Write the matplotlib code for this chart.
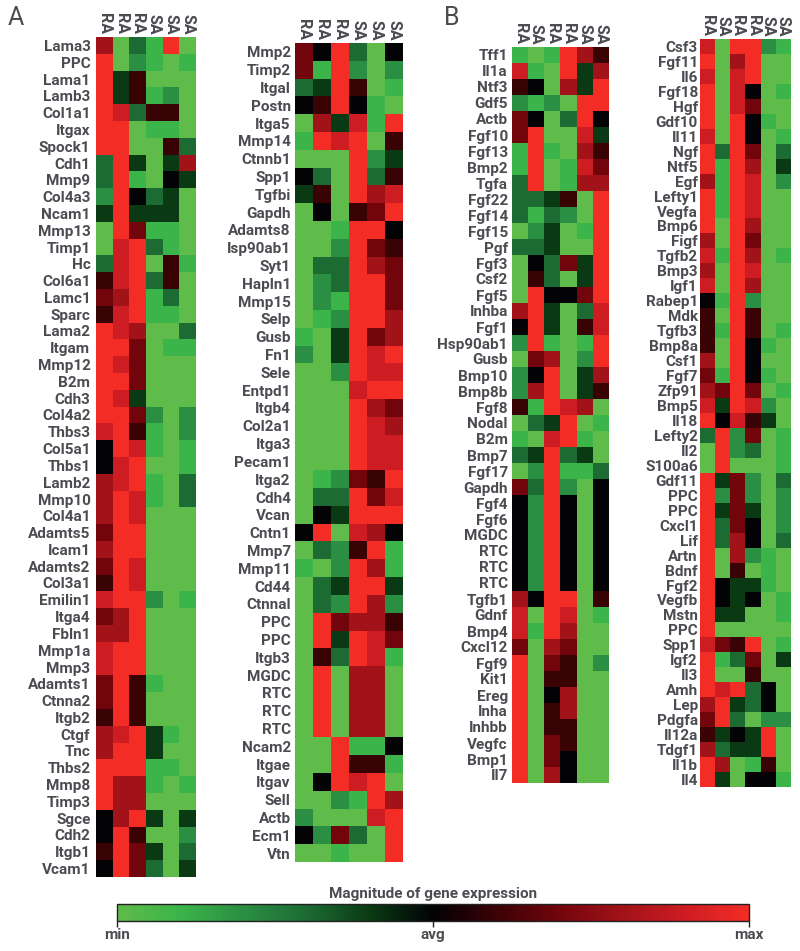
import matplotlib
matplotlib.use('Agg')
import numpy as np
from matplotlib import pyplot as plt
from matplotlib.cm import ScalarMappable
from matplotlib.colors import LinearSegmentedColormap, Normalize

plt.rcParams['font.family'] = ['Roboto', 'DejaVu Sans']

TEXT = '#4b4c52'
W, H = 800, 951

# expression levels: 0 = min, 5 = avg, 10 = max
genes_a1 = ['Lama3', 'PPC', 'Lama1', 'Lamb3', 'Col1a1', 'Itgax', 'Spock1', 'Cdh1', 'Mmp9', 'Col4a3',
            'Ncam1', 'Mmp13', 'Timp1', 'Hc', 'Col6a1', 'Lamc1', 'Sparc', 'Lama2', 'Itgam', 'Mmp12',
            'B2m', 'Cdh3', 'Col4a2', 'Thbs3', 'Col5a1', 'Thbs1', 'Lamb2', 'Mmp10', 'Col4a1', 'Adamts5',
            'Icam1', 'Adamts2', 'Col3a1', 'Emilin1', 'Itga4', 'Fbln1', 'Mmp1a', 'Mmp3', 'Adamts1', 'Ctnna2',
            'Itgb2', 'Ctgf', 'Tnc', 'Thbs2', 'Mmp8', 'Timp3', 'Sgce', 'Cdh2', 'Itgb1', 'Vcam1']
cols_a1 = ['RA', 'RA', 'RA', 'SA', 'SA', 'SA']
expr_a1 = [
    [8, 0, 3, 1, 10, 0], [10, 0, 2, 1, 0, 1], [10, 4, 6, 0, 0, 0], [10, 4, 6, 1, 2, 0], [10, 9, 3, 6, 6, 0],
    [10, 10, 0, 1, 1, 0], [10, 10, 0, 0, 6, 3], [3, 10, 4, 0, 4, 8], [3, 10, 1, 0, 5, 4], [2, 10, 5, 3, 4, 0],
    [4, 10, 4, 4, 4, 0], [0, 10, 7, 1, 1, 0], [0, 9, 10, 3, 1, 0], [3, 9, 10, 0, 6, 1], [6, 9, 10, 3, 6, 0],
    [7, 8, 10, 1, 3, 0], [6, 9, 10, 1, 1, 0], [10, 9, 8, 0, 0, 3], [10, 10, 7, 0, 1, 1], [10, 9, 7, 0, 0, 0],
    [10, 10, 7, 0, 0, 0], [10, 9, 4, 0, 0, 0], [10, 10, 7, 2, 0, 2], [9, 10, 6, 1, 0, 2], [5, 10, 9, 1, 0, 1],
    [5, 9, 10, 0, 0, 1], [8, 9, 10, 1, 0, 3], [8, 10, 9, 1, 0, 3], [8, 10, 9, 0, 0, 0], [7, 10, 10, 0, 0, 0],
    [8, 10, 10, 0, 0, 0], [7, 10, 9, 0, 0, 0], [6, 10, 9, 0, 0, 0], [9, 10, 10, 2, 0, 1], [7, 8, 10, 0, 0, 0],
    [8, 8, 10, 0, 0, 0], [9, 10, 10, 0, 0, 0], [9, 10, 10, 0, 0, 0], [7, 10, 6, 1, 0, 0], [7, 10, 6, 0, 0, 0],
    [6, 10, 6, 0, 0, 0], [8, 9, 10, 4, 1, 0], [8, 10, 10, 4, 0, 0], [10, 10, 10, 1, 1, 0], [10, 8, 8, 1, 0, 1],
    [10, 8, 8, 0, 0, 0], [5, 8, 10, 4, 0, 4], [5, 10, 6, 0, 0, 2], [6, 10, 7, 4, 0, 3], [5, 10, 7, 3, 0, 4],
]

genes_a2 = ['Mmp2', 'Timp2', 'Itgal', 'Postn', 'Itga5', 'Mmp14', 'Ctnnb1', 'Spp1', 'Tgfbi', 'Gapdh',
            'Adamts8', 'Isp90ab1', 'Syt1', 'Hapln1', 'Mmp15', 'Selp', 'Gusb', 'Fn1', 'Sele', 'Entpd1',
            'Itgb4', 'Col2a1', 'Itga3', 'Pecam1', 'Itga2', 'Cdh4', 'Vcan', 'Cntn1', 'Mmp7', 'Mmp11',
            'Cd44', 'Ctnnal', 'PPC', 'PPC', 'Itgb3', 'MGDC', 'RTC', 'RTC', 'RTC', 'Ncam2',
            'Itgae', 'Itgav', 'Sell', 'Actb', 'Ecm1', 'Vtn']
cols_a2 = ['RA', 'RA', 'RA', 'SA', 'SA', 'SA']
expr_a2 = [
    [7, 5, 10, 3, 0, 5], [7, 1, 10, 2, 0, 2], [3, 4, 10, 6, 0, 1], [5, 6, 10, 5, 1, 0], [0, 8, 4, 9, 1, 10],
    [1, 10, 9, 10, 0, 6], [0, 0, 0, 10, 2, 4], [5, 3, 0, 10, 3, 6], [4, 6, 0, 10, 8, 9], [0, 5, 0, 6, 7, 10],
    [0, 0, 1, 10, 10, 5], [0, 0, 2, 10, 7, 6], [0, 3, 3, 10, 8, 7], [0, 2, 3, 10, 10, 7], [0, 2, 1, 10, 10, 7],
    [0, 1, 2, 10, 10, 8], [1, 0, 4, 10, 7, 8], [2, 0, 4, 10, 9, 10], [0, 0, 2, 10, 9, 9], [0, 0, 0, 9, 10, 10],
    [0, 0, 0, 10, 8, 7], [0, 0, 0, 10, 9, 8], [0, 0, 0, 10, 9, 9], [0, 0, 0, 10, 9, 9], [0, 1, 2, 7, 6, 10],
    [0, 3, 3, 10, 7, 9], [0, 5, 4, 10, 10, 10], [5, 10, 0, 9, 8, 5], [0, 3, 2, 6, 10, 1], [1, 0, 2, 10, 8, 1],
    [0, 3, 4, 10, 10, 4], [0, 3, 2, 10, 8, 2], [0, 10, 7, 8, 8, 6], [0, 10, 4, 10, 9, 7], [0, 6, 3, 10, 9, 1],
    [0, 10, 0, 8, 8, 0], [0, 10, 0, 8, 8, 0], [0, 10, 0, 8, 8, 0], [0, 10, 0, 8, 8, 0], [0, 0, 10, 1, 1, 5],
    [0, 0, 10, 6, 6, 1], [0, 5, 10, 9, 10, 0], [0, 0, 2, 1, 10, 8], [2, 0, 0, 0, 9, 10], [5, 2, 7, 3, 0, 10],
    [0, 0, 1, 0, 0, 10],
]

genes_b1 = ['Tff1', 'Il1a', 'Ntf3', 'Gdf5', 'Actb', 'Fgf10', 'Fgf13', 'Bmp2', 'Tgfa', 'Fgf22',
            'Fgf14', 'Fgf15', 'Pgf', 'Fgf3', 'Csf2', 'Fgf5', 'Inhba', 'Fgf1', 'Hsp90ab1', 'Gusb',
            'Bmp10', 'Bmp8b', 'Fgf8', 'Nodal', 'B2m', 'Bmp7', 'Fgf17', 'Gapdh', 'Fgf4', 'Fgf6',
            'MGDC', 'RTC', 'RTC', 'RTC', 'Tgfb1', 'Gdnf', 'Bmp4', 'Cxcl12', 'Fgf9', 'Kit1',
            'Ereg', 'Inha', 'Inhbb', 'Vegfc', 'Bmp1', 'Il7']
cols_b1 = ['RA', 'SA', 'RA', 'RA', 'SA', 'SA']
expr_b1 = [
    [1, 0, 1, 10, 8, 6], [9, 1, 0, 10, 4, 8], [6, 5, 0, 8, 4, 10], [2, 1, 2, 0, 10, 10], [7, 5, 0, 3, 10, 5],
    [7, 10, 0, 0, 9, 4], [1, 10, 1, 0, 8, 6], [1, 10, 0, 1, 9, 7], [3, 10, 0, 1, 8, 8], [3, 3, 4, 6, 0, 10],
    [3, 1, 3, 2, 0, 10], [0, 2, 4, 0, 1, 10], [3, 3, 4, 0, 0, 10], [0, 5, 3, 7, 4, 10], [0, 6, 3, 0, 4, 10],
    [0, 10, 5, 5, 7, 10], [8, 10, 4, 0, 3, 9], [5, 10, 4, 0, 6, 9], [2, 10, 1, 0, 1, 10], [0, 7, 8, 0, 2, 10],
    [2, 5, 10, 0, 4, 8], [2, 8, 10, 0, 4, 6], [6, 1, 10, 9, 8, 0], [0, 3, 4, 10, 0, 1], [1, 0, 9, 10, 1, 0],
    [3, 4, 10, 3, 4, 0], [0, 2, 10, 1, 1, 3], [7, 3, 10, 2, 0, 5], [5, 2, 10, 5, 0, 5], [5, 2, 10, 5, 0, 5],
    [5, 2, 10, 5, 0, 5], [5, 2, 10, 5, 0, 5], [5, 2, 10, 5, 0, 5], [5, 2, 10, 5, 0, 5], [8, 5, 10, 10, 0, 6],
    [9, 0, 10, 9, 0, 1], [9, 1, 10, 8, 0, 0], [7, 0, 8, 7, 0, 0], [10, 0, 7, 6, 0, 2], [10, 0, 6, 6, 0, 0],
    [10, 0, 5, 8, 0, 0], [10, 0, 6, 8, 0, 0], [10, 0, 6, 6, 0, 0], [10, 0, 7, 6, 0, 0], [10, 0, 7, 5, 0, 0],
    [10, 0, 8, 5, 0, 0],
]

genes_b2 = ['Csf3', 'Fgf11', 'Il6', 'Fgf18', 'Hgf', 'Gdf10', 'Il11', 'Ngf', 'Ntf5', 'Egf',
            'Lefty1', 'Vegfa', 'Bmp6', 'Figf', 'Tgfb2', 'Bmp3', 'Igf1', 'Rabep1', 'Mdk', 'Tgfb3',
            'Bmp8a', 'Csf1', 'Fgf7', 'Zfp91', 'Bmp5', 'Il18', 'Lefty2', 'Il2', 'S100a6', 'Gdf11',
            'PPC', 'PPC', 'Cxcl1', 'Lif', 'Artn', 'Bdnf', 'Fgf2', 'Vegfb', 'Mstn', 'PPC',
            'Spp1', 'Igf2', 'Il3', 'Amh', 'Lep', 'Pdgfa', 'Il12a', 'Tdgf1', 'Il1b', 'Il4']
cols_b2 = ['RA', 'SA', 'RA', 'RA', 'SA', 'SA']
expr_b2 = [
    [9, 0, 10, 10, 2, 1], [10, 0, 8, 10, 0, 0], [9, 0, 9, 10, 0, 0], [10, 0, 9, 5, 0, 1], [10, 0, 9, 7, 0, 0],
    [10, 0, 10, 5, 1, 0], [9, 0, 10, 5, 0, 1], [10, 3, 10, 7, 0, 3], [10, 1, 10, 8, 0, 4], [8, 1, 10, 9, 0, 2],
    [10, 1, 10, 9, 0, 0], [10, 1, 10, 9, 0, 0], [10, 0, 10, 8, 0, 0], [8, 0, 10, 7, 0, 0], [9, 1, 10, 8, 0, 1],
    [8, 0, 10, 9, 0, 0], [9, 0, 10, 8, 0, 0], [5, 1, 10, 2, 0, 0], [6, 0, 10, 6, 0, 0], [6, 1, 10, 6, 0, 1],
    [6, 0, 10, 5, 1, 0], [8, 0, 10, 5, 0, 0], [7, 1, 10, 5, 1, 0], [8, 7, 10, 7, 0, 1], [9, 4, 10, 9, 2, 0],
    [10, 5, 9, 6, 4, 0], [3, 10, 2, 7, 0, 1], [0, 10, 2, 3, 0, 1], [0, 10, 0, 0, 0, 1], [10, 4, 7, 2, 0, 3],
    [10, 2, 7, 2, 0, 2], [10, 4, 7, 4, 0, 2], [10, 3, 7, 5, 0, 2], [10, 3, 8, 5, 0, 3], [10, 0, 8, 2, 1, 0],
    [10, 0, 6, 0, 1, 0], [10, 5, 4, 4, 1, 0], [10, 5, 4, 5, 0, 1], [10, 4, 4, 0, 0, 1], [10, 0, 0, 0, 0, 0],
    [9, 7, 6, 10, 0, 1], [10, 1, 3, 7, 0, 4], [10, 0, 0, 6, 0, 0], [10, 9, 10, 3, 5, 0], [8, 10, 4, 3, 5, 0],
    [7, 10, 3, 0, 2, 2], [6, 4, 5, 4, 10, 0], [8, 3, 4, 4, 10, 0], [10, 8, 0, 1, 6, 0], [10, 4, 0, 5, 5, 1],
]

cmap = LinearSegmentedColormap.from_list('expr', ['#5fbb4a', '#3bb44a', '#2a8e43', '#1c6b33', '#0a3a14', '#020205',
                                                   '#3a0206', '#72040c', '#a21219', '#cd1c22', '#f32c25'])
norm = Normalize(0, 10)


def px_axes(fig, x0, y0, x1, y1):
    # pixel box measured from the top left of the picture
    return fig.add_axes([x0 / W, 1 - y1 / H, (x1 - x0) / W, (y1 - y0) / H])


def heat(fig, genes, cols, expr, box, pad):
    ax = px_axes(fig, *box)
    ax.imshow(np.array(expr), cmap=cmap, norm=norm, aspect='auto', interpolation='nearest')
    ax.set_yticks(range(len(genes)), genes, fontsize=11, fontweight='bold', color=TEXT)
    ax.set_xticks(range(len(cols)), cols, fontsize=11.5, fontweight='bold', color=TEXT, rotation=270)
    ax.xaxis.tick_top()
    ax.tick_params(axis='both', length=0)
    ax.tick_params(axis='y', pad=pad)
    ax.tick_params(axis='x', pad=2)
    for s in ax.spines.values():
        s.set_visible(False)
    return ax


fig = plt.figure(figsize=(8, 9.51), dpi=100)

heat(fig, genes_a1, cols_a1, expr_a1, (96, 37, 196, 877), 4)
heat(fig, genes_a2, cols_a2, expr_a2, (295, 43, 403, 862), 3)
heat(fig, genes_b1, cols_b1, expr_b1, (512, 47, 609, 783), 3)
heat(fig, genes_b2, cols_b2, expr_b2, (700, 39, 791, 787), 1.5)

fig.text(8 / W, 1 - 25 / H, 'A', fontsize=18, color=TEXT)
fig.text(444 / W, 1 - 25 / H, 'B', fontsize=18, color=TEXT)

# colour key
cax = px_axes(fig, 117, 904, 749, 921)
cb = fig.colorbar(ScalarMappable(norm=norm, cmap=cmap), cax=cax, orientation='horizontal', ticks=[0, 5, 10])
cb.ax.set_xticklabels(['min', 'avg', 'max'], fontsize=11, fontweight='bold', color=TEXT)
cb.ax.tick_params(length=4, width=1, pad=1, color='#222222')
cb.outline.set_linewidth(1)
cb.outline.set_edgecolor('#222222')
cax.set_title('Magnitude of gene expression', fontsize=11, fontweight='bold', color=TEXT, pad=4)

fig.savefig('out.png', dpi=100)
